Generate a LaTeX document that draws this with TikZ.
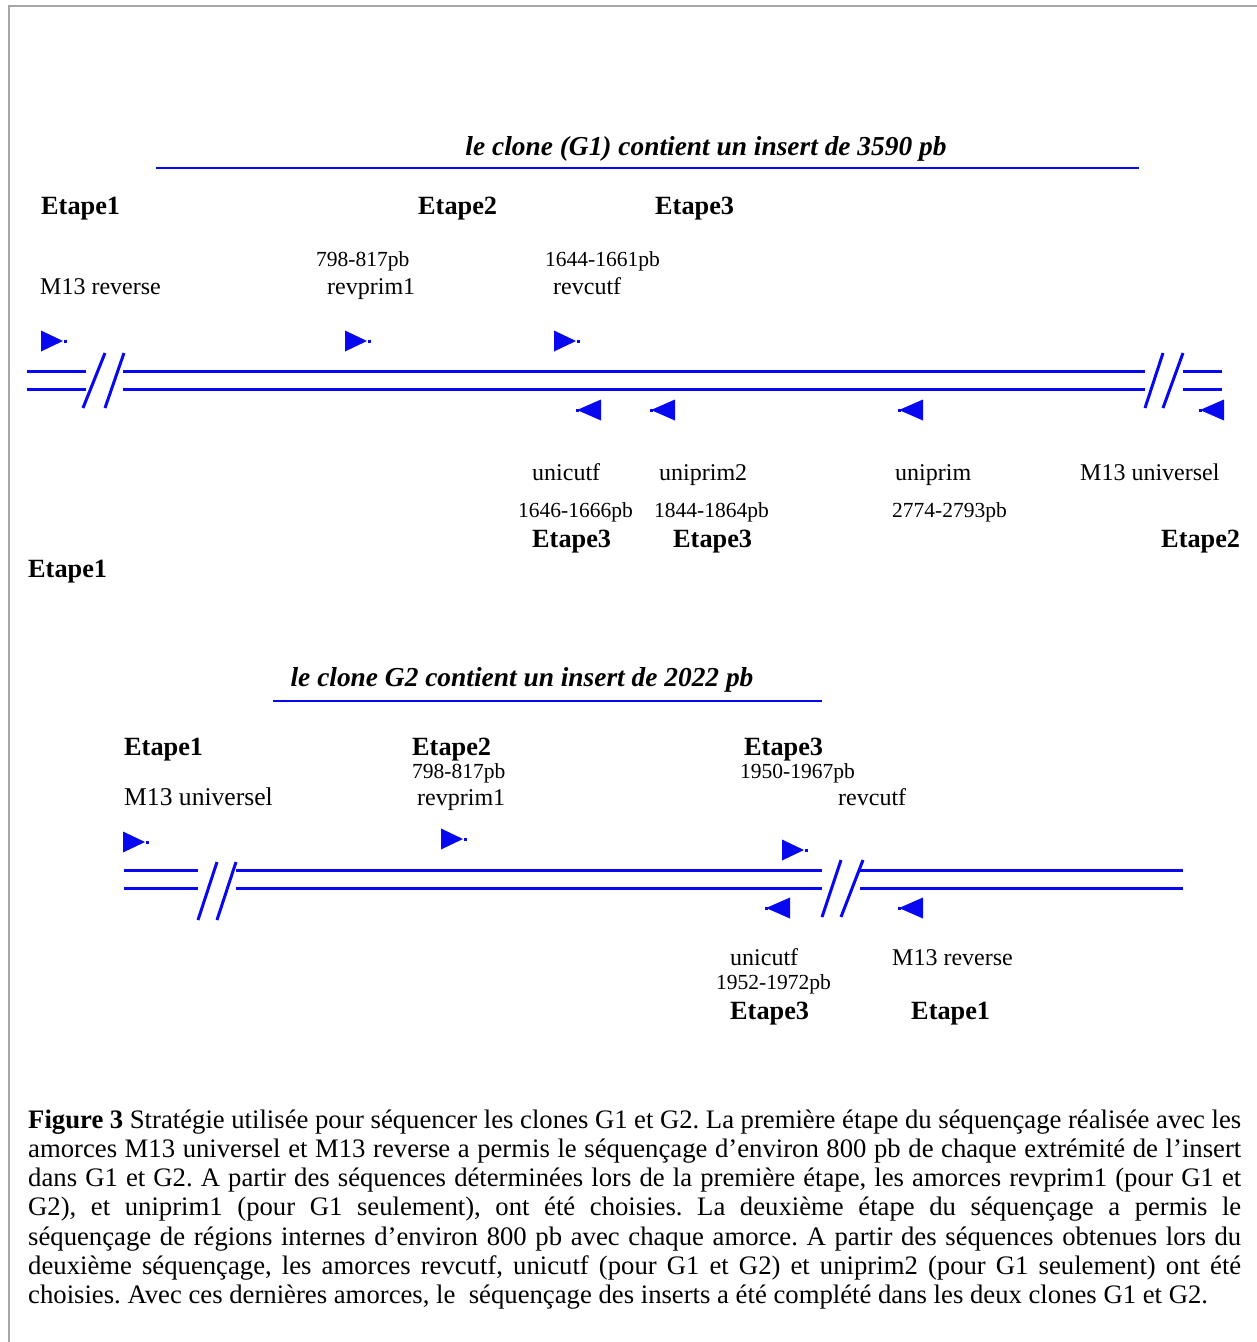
\documentclass[tikz,border=0pt]{standalone}
\usepackage{fontspec}
\setmainfont{Liberation Serif}
\definecolor{strandblue}{RGB}{8,8,240}
\definecolor{framegray}{RGB}{165,165,165}
\frenchspacing
\begin{document}
\begin{tikzpicture}[x=1pt,y=-1pt,
  strand/.style={draw=strandblue, line width=3pt},
  cut/.style={draw=strandblue, line width=3pt},
  etape/.style={inner sep=0pt, anchor=base west, font=\fontsize{26.3}{30}\selectfont\bfseries},
  primer/.style={inner sep=0pt, anchor=base west, font=\fontsize{24}{28}\selectfont},
  span/.style={inner sep=0pt, anchor=base west, font=\fontsize{21.5}{25}\selectfont},
  clonetitle/.style={inner sep=0pt, anchor=base, font=\fontsize{27.4}{32}\selectfont\bfseries\itshape},
  capline/.style={inner sep=0pt, anchor=base west, font=\fontsize{26.7}{29}\selectfont},
  fwd/.pic={\fill[strandblue] (-22,-10.5) -- (0,0) -- (-22,10.5) -- cycle;
            \fill[strandblue] (1,-1.5) rectangle (4,1.5);},
  rev/.pic={\fill[strandblue] (24,-10.5) -- (0,0) -- (24,10.5) -- cycle;
            \fill[strandblue] (-1,-1.5) rectangle (2,1.5);}
]
\useasboundingbox (0,0) rectangle (1257,1342);
\fill[white] (0,0) rectangle (1257,1342);
% frame
\draw[framegray, line width=2.5pt] (9,1342) -- (9,6) -- (1257,6);

% ---------------- clone G1 ----------------
\node[clonetitle] (t1) at (706,155) {le clone (G1) contient un insert de 3590 pb};
\draw[strand, line width=2.6pt] (156,168) -- (1139,168);

\node[etape] (a1) at (41,214) {Etape1};
\node[etape] (a2) at (418,214) {Etape2};
\node[etape] (a3) at (655,214) {Etape3};
\node[span] (s1) at (316,266) {798-817pb};
\node[span] (s2) at (545,266) {1644-1661pb};
\node[primer] (p1) at (40,294) {M13 reverse};
\node[primer] (p2) at (327,294) {revprim1};
\node[primer] (p3) at (553,294) {revcutf};

\pic at (63,341) {fwd};
\pic at (367,341) {fwd};
\pic at (576,341) {fwd};

% insert with breaks
\draw[strand] (27,371) -- (86,371) (27,389) -- (86,389);
\draw[cut] (83,408) -- (105,353) (105,408) -- (124,353);
\draw[strand] (123,371) -- (1145,371) (123,389) -- (1145,389);
\draw[cut] (1145,408) -- (1163,353) (1163,408) -- (1183,353);
\draw[strand] (1183,371) -- (1222,371) (1183,389) -- (1222,389);

\pic at (577,410) {rev};
\pic at (651,410) {rev};
\pic at (899,410) {rev};
\pic at (1200,410) {rev};

\node[primer] (p4) at (532,480) {unicutf};
\node[primer] (p5) at (659,480) {uniprim2};
\node[primer] (p6) at (895,480) {uniprim};
\node[primer] (p7) at (1080,480) {M13 universel};
\node[span] (s3) at (518,517) {1646-1666pb};
\node[span] (s4) at (654,517) {1844-1864pb};
\node[span] (s5) at (892,517) {2774-2793pb};
\node[etape] (a4) at (532,547) {Etape3};
\node[etape] (a5) at (673,547) {Etape3};
\node[etape] (a6) at (1161,547) {Etape2};
\node[etape] (a7) at (28,577) {Etape1};

% ---------------- clone G2 ----------------
\node[clonetitle] (t2) at (522,686) {le clone G2 contient un insert de 2022 pb};
\draw[strand, line width=2.6pt] (273,701) -- (822,701);

\node[etape] (b1) at (124,755) {Etape1};
\node[etape] (b2) at (412,755) {Etape2};
\node[etape] (b3) at (744,755) {Etape3};
\node[span] (r1) at (412,778) {798-817pb};
\node[span] (r2) at (740,778) {1950-1967pb};
\node[primer, font=\fontsize{25.6}{29}\selectfont] (q1) at (124,805) {M13 universel};
\node[primer] (q2) at (417,805) {revprim1};
\node[primer] (q3) at (838,805) {revcutf};

\pic at (145,842) {fwd};
\pic at (463,839) {fwd};
\pic at (804,850) {fwd};

\draw[strand] (124,870) -- (198,870) (124,888) -- (198,888);
\draw[cut] (198,920) -- (217,862) (217,920) -- (236,862);
\draw[strand] (236,870) -- (822,870) (236,888) -- (822,888);
\draw[cut] (822,917) -- (841,860) (841,917) -- (863,860);
\draw[strand] (860,870) -- (1183,870) (860,888) -- (1183,888);

\pic at (766,908) {rev};
\pic at (899,908) {rev};

\node[primer] (q4) at (730,965) {unicutf};
\node[primer] (q5) at (892,965) {M13 reverse};
\node[span] (r3) at (716,989) {1952-1972pb};
\node[etape] (b4) at (730,1019) {Etape3};
\node[etape] (b5) at (911,1019) {Etape1};

% ---------------- caption ----------------
\node[capline] (c1) at (28,1128.0) {\makebox[1213pt][s]{\textbf{Figure 3} Stratégie utilisée pour séquencer les clones G1 et G2. La première étape du séquençage réalisée avec les}};
\node[capline] (c2) at (28,1157.3) {\makebox[1213pt][s]{amorces M13 universel et M13 reverse a permis le séquençage d’environ 800 pb de chaque extrémité de l’insert}};
\node[capline] (c3) at (28,1186.6) {\makebox[1213pt][s]{dans G1 et G2. A partir des séquences déterminées lors de la première étape, les amorces revprim1 (pour G1 et}};
\node[capline] (c4) at (28,1215.9) {\makebox[1213pt][s]{G2), et uniprim1 (pour G1 seulement), ont été choisies. La deuxième étape du séquençage a permis le}};
\node[capline] (c5) at (28,1245.2) {\makebox[1213pt][s]{séquençage de régions internes d’environ 800 pb avec chaque amorce. A partir des séquences obtenues lors du}};
\node[capline] (c6) at (28,1274.5) {\makebox[1213pt][s]{deuxième séquençage, les amorces revcutf, unicutf (pour G1 et G2) et uniprim2 (pour G1 seulement) ont été}};
\node[capline] (c7) at (28,1303.8) {choisies. Avec ces dernières amorces, le \ séquençage des inserts a été complété dans les deux clones G1 et G2.};
\end{tikzpicture}
\end{document}
